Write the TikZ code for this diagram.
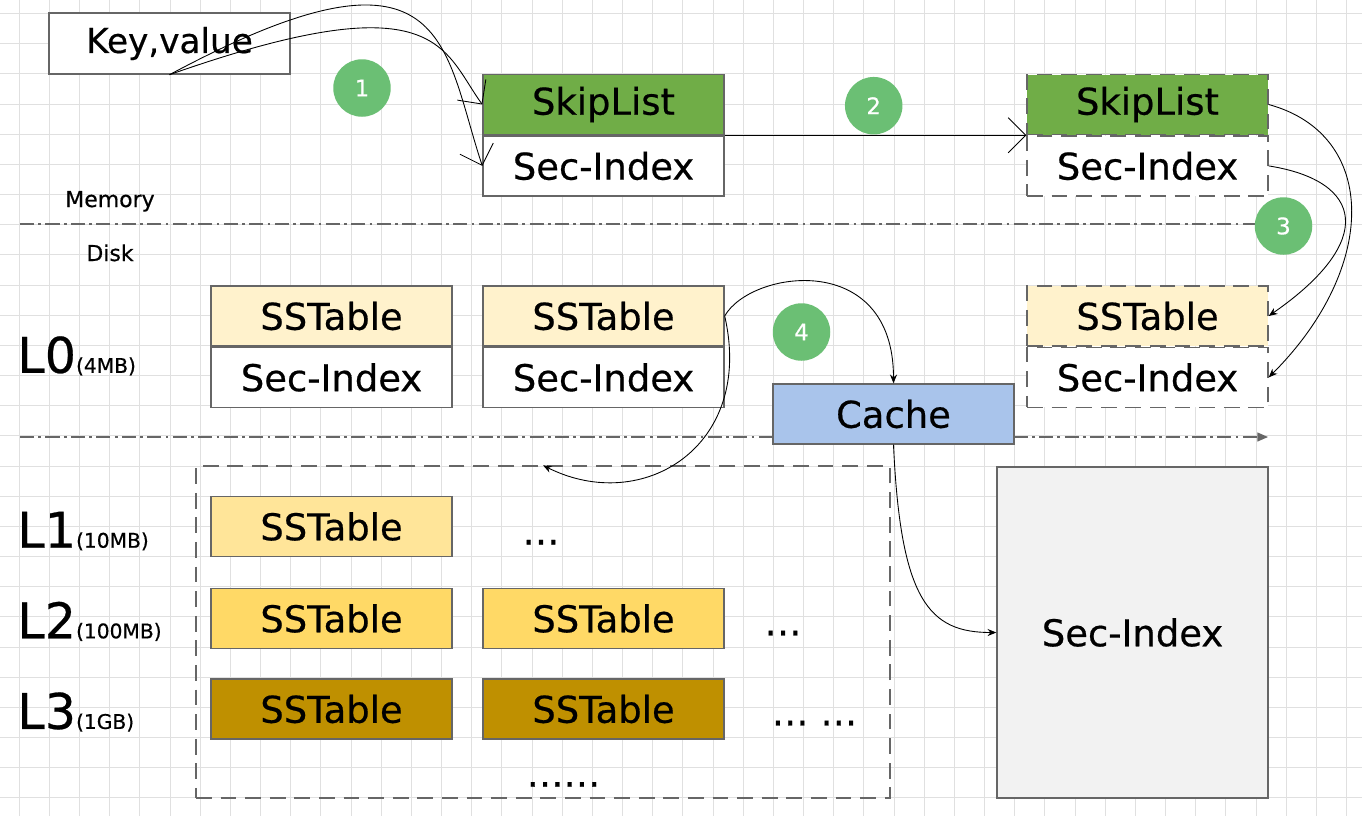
\documentclass[tikz,border=0pt]{standalone}
\usepackage{fontspec}
\setmainfont{DejaVu Sans}[FakeBold=0.5]
\usetikzlibrary{arrows.meta}
\usetikzlibrary{calc,positioning}
\definecolor{bordagray}{HTML}{666666}
\definecolor{gridgray}{HTML}{E0E0E0}
\definecolor{skipgreen}{HTML}{70AD47}
\definecolor{circgreen}{HTML}{6BBF74}
\definecolor{lzero}{HTML}{FFF2CC}
\definecolor{lone}{HTML}{FFE599}
\definecolor{ltwo}{HTML}{FFD966}
\definecolor{lthree}{HTML}{BF9000}
\definecolor{cacheblue}{HTML}{A9C4EB}
\definecolor{secgray}{HTML}{F2F2F2}
\newcommand{\caixafont}{\fontsize{21}{25}\selectfont}

\begin{document}
\begin{tikzpicture}[x=0.02cm, y=-0.02cm, >=Stealth,
 caixa/.style={draw=bordagray, fill=white, line width=0.8pt, minimum width=4.82cm,
  minimum height=1.2cm, inner sep=0pt, font=\caixafont},
 tracejada/.style={caixa, dash pattern=on 9pt off 5pt},
 passo/.style={circle, fill=circgreen, minimum size=1.15cm, inner sep=0pt,
  text=white, font=\fontsize{13}{13}\selectfont},
 seta/.style={-{Stealth[length=5pt,width=4pt]}, line width=0.5pt},
 aberta/.style={-{Straight Barb[length=10pt,width=20pt]}, line width=0.5pt},
 divisa/.style={bordagray, line width=0.8pt, dash pattern=on 8pt off 2.5pt on 1.5pt off 2.5pt},
 nivel/.style={anchor=base west, inner sep=0pt}]
    \useasboundingbox (0,0) rectangle (1362,816);
    \fill[white] (0,0) rectangle (1362,816);
    % grade de fundo
    \foreach \i in {0,...,44}
        \draw[gridgray, line width=0.4pt] ({19+30.17*\i},0) -- ({19+30.17*\i},816);
    \foreach \j in {0,...,26}
        \draw[gridgray, line width=0.4pt] (0,{13.4+30.17*\j}) -- (1362,{13.4+30.17*\j});

    % caixa tracejada dos niveis L1-L3
    \node[draw=bordagray, line width=0.8pt, dash pattern=on 9pt off 5pt, minimum width=13.88cm,
        minimum height=6.64cm, inner sep=0pt] (niveis) at (543,632) {};

    % linhas memoria / disco
    \coordinate (mem0) at (20,224);
    \coordinate (mem1) at (1268,224);
    \coordinate (disk0) at (20,437);
    \coordinate (disk1) at (1268,437);
    \draw[divisa] (mem0) -- (mem1);
    \draw[divisa, -{Triangle[length=6pt,width=5pt]}] (disk0) -- (disk1);
    \node[anchor=base, font=\fontsize{12.5}{12}\selectfont] (memoria) at (110,207) {Memory};
    \node[anchor=base, font=\fontsize{12.5}{12}\selectfont] (disco) at (110,261) {Disk};

    % memtable
    \node[caixa, minimum height=1.22cm, font=\fontsize{19.5}{23}\selectfont] (kv) at (169.5,43.5) {Key,value};
    \node[caixa, fill=skipgreen] (skip1) at (603.5,104.5) {SkipList};
    \node[caixa, below=0pt of skip1] (secm1) {Sec-Index};
    \node[tracejada, fill=skipgreen] (skip2) at (1147.5,104.5) {SkipList};
    \node[tracejada, below=0pt of skip2] (secm2) {Sec-Index};

    % nivel L0
    \node[caixa, fill=lzero] (sst0a) at (331.5,316) {SSTable};
    \node[caixa, below=0pt of sst0a] (sec0a) {Sec-Index};
    \node[caixa, fill=lzero] (sst0b) at (603.5,316) {SSTable};
    \node[caixa, below=0pt of sst0b] (sec0b) {Sec-Index};
    \node[tracejada, fill=lzero] (sst0c) at (1147.5,316) {SSTable};
    \node[tracejada, below=0pt of sst0c] (sec0c) {Sec-Index};
    \node[caixa, fill=cacheblue] (cache) at (893.5,414) {Cache};

    % niveis L1-L3
    \node[caixa, fill=lone] (sst1a) at (331.5,526.5) {SSTable};
    \node[caixa, fill=ltwo] (sst2a) at (331.5,618.5) {SSTable};
    \node[caixa, fill=ltwo] (sst2b) at (603.5,618.5) {SSTable};
    \node[caixa, fill=lthree] (sst3a) at (331.5,709) {SSTable};
    \node[caixa, fill=lthree] (sst3b) at (603.5,709) {SSTable};
    \node[anchor=base, font=\caixafont] (dots1) at (541,544.5) {…};
    \node[anchor=base, font=\caixafont] (dots2) at (783,635.4) {…};
    \node[anchor=base, font=\caixafont] (dots3) at (814.5,725.4) {… …};
    \node[anchor=base, font=\caixafont] (dots4) at (563.5,786.7) {……};
    \node[caixa, fill=secgray, minimum width=5.42cm, minimum height=6.62cm] (secbig) at (1132.5,632.5) {Sec-Index};

    % rotulos dos niveis
    \foreach \n/\s/\y in {0/4MB/372.8, 1/10MB/547.7, 2/100MB/638.3, 3/1GB/728.9}
        \node[nivel] (lab\n) at (17,\y) {\fontsize{28}{28}\selectfont L\n\fontsize{11.5}{12}\selectfont (\s)};

    % setas
    \draw[aberta] (kv.south) .. controls +(270,-95) and +(-40,-55) .. (skip1.west);
    \draw[aberta] (kv.south) .. controls +(280,-150) and +(-40,-120) .. (secm1.west);
    \draw[aberta] (skip1.south east) -- (skip2.south west);
    \draw[seta] (skip2.east) .. controls +(110,30) and +(110,-110) .. (sec0c.east);
    \draw[seta] (secm2.east) .. controls +(95,15) and +(108,-75) .. (sst0c.east);
    \draw[seta] (sst0b.east) .. controls +(26,-46) and +(0,-134) .. (cache.north);
    \draw[seta] (sst0b.east) .. controls +(30,130) and +(100,50) .. (niveis.north);
    \draw[seta] (cache.south) .. controls +(7,156) and +(-67,0) .. (secbig.west);

    % passos
    \node[passo] (p1) at (362,88) {1};
    \node[passo] (p2) at (873.7,105.7) {2};
    \node[passo] (p3) at (1283.5,226) {3};
    \node[passo] (p4) at (801.5,332) {4};
\end{tikzpicture}
\end{document}
